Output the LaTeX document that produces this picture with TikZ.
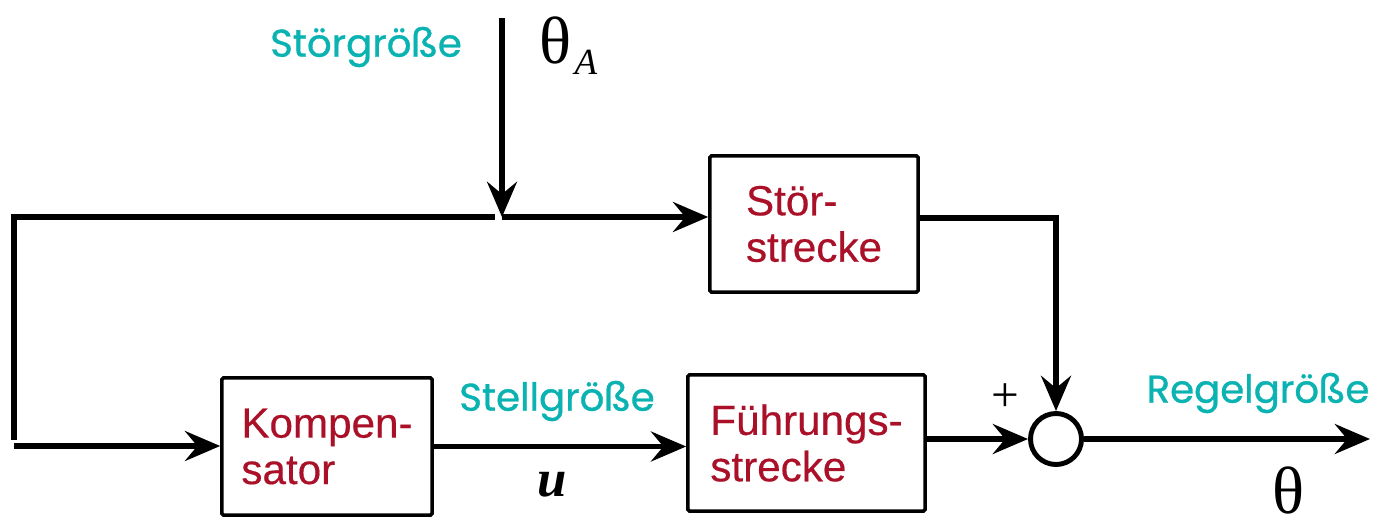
\documentclass[tikz,border=0pt]{standalone}
\usepackage{fontspec}
\setmainfont{Liberation Sans}
\newfontfamily\labelfont{Poppins}[FakeBold=0.8]
\newfontfamily\blockfont{Liberation Sans}[FakeBold=0.4]
\newfontfamily\mathserif{Liberation Serif}
\usetikzlibrary{arrows.meta}
\definecolor{sigcyan}{RGB}{10,178,178}
\definecolor{blockred}{RGB}{170,16,40}
\tikzset{
  block/.style={draw, line width=1pt, rounded corners=0.4pt, inner sep=0pt,
    font=\blockfont\fontsize{12}{13.2}\selectfont, text=blockred, align=left},
  conn/.style={line width=1.6pt},
  arr/.style={conn, -{Stealth[length=10pt,width=8.5pt,inset=3.5pt]}},
  siglabel/.style={font=\labelfont\fontsize{11}{13}\selectfont, text=sigcyan, inner sep=0pt},
  greek/.style={font=\mathserif\fontsize{19}{22}\selectfont, inner sep=0pt},
}
\begin{document}
\begin{tikzpicture}[x=0.01cm, y=-0.01cm]
  \useasboundingbox (0,0) rectangle (1373,524);

  % blocks
  \node[block, minimum width=2.10cm, minimum height=1.37cm] (kom) at (327,446.5) {Kompen-\\sator};
  \node[block, minimum width=2.37cm, minimum height=1.36cm] (fue) at (806.5,443) {Führungs-\\strecke};
  \node[block, minimum width=2.08cm, minimum height=1.36cm] (stoer) at (814,224) {Stör-\\strecke};
  \node[draw, circle, line width=1.4pt, minimum size=0.51cm, inner sep=0pt] (sum) at (1056,439) {};

  % helper points of the feed-forward path
  \coordinate (dist) at (502,18);
  \coordinate (junc) at (502,217);
  \coordinate (jl) at (495,217);
  \coordinate (tl) at (14,217);
  \coordinate (bl) at (14,440);
  \coordinate (in) at (14,446);
  \coordinate (out) at (1370,439);

  % disturbance input and its branches
  \draw[arr] (dist) -- (junc);
  \draw[arr] (junc) -- (junc -| stoer.west);
  \draw[conn] (jl) -- (tl) -- (bl);
  \draw[arr] (in) -- (in -| kom.west);

  % forward path
  \draw[arr] (kom.east) -- (kom.east -| fue.west);
  \draw[arr] (fue.east |- sum) -- (sum.west);
  \draw[arr] ([yshift=0.06cm]stoer.east) -| (sum.north);
  \draw[arr] (sum.east) -- (out);

  % labels
  \node[siglabel] (lstoer) at (366,47) {Störgröße};
  \node[greek] (thA) at (555,40) {θ};
  \node[font=\mathserif\itshape\fontsize{10.5}{12}\selectfont, inner sep=0pt] (subA) at (586,62) {A};
  \node[siglabel] (lstell) at (557,401) {Stellgröße};
  \node[font=\mathserif\bfseries\itshape\fontsize{15}{18}\selectfont, inner sep=0pt] (lu) at (552,485) {u};
  \node[font=\mathserif\fontsize{14}{16}\selectfont, inner sep=0pt] (plus) at (1005,398) {+};
  \node[siglabel] (lregel) at (1258,393) {Regelgröße};
  \node[greek] (th) at (1288,490) {θ};
\end{tikzpicture}
\end{document}
